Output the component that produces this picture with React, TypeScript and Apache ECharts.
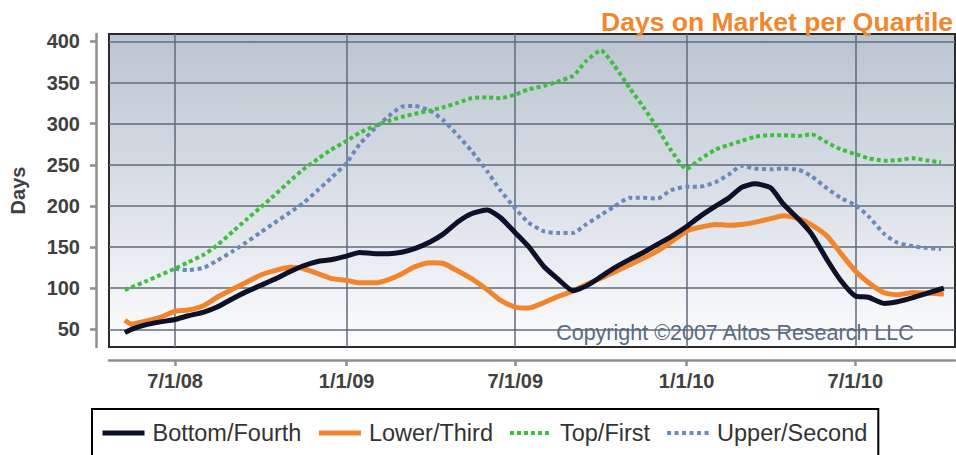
import React, { useEffect, useRef } from "react";
import * as echarts from "echarts";

// Semi-monthly sample dates
const dates: string[] = [
  "2008-05-08", "2008-05-15", "2008-06-01", "2008-06-15",
  "2008-07-01", "2008-07-15", "2008-08-01", "2008-08-15", "2008-09-01", "2008-09-15",
  "2008-10-01", "2008-10-15", "2008-11-01", "2008-11-15", "2008-12-01", "2008-12-15",
  "2009-01-01", "2009-01-15", "2009-02-01", "2009-02-15", "2009-03-01", "2009-03-15",
  "2009-04-01", "2009-04-15", "2009-05-01", "2009-05-15", "2009-06-01", "2009-06-15",
  "2009-07-01", "2009-07-15", "2009-08-01", "2009-08-15", "2009-09-01", "2009-09-15",
  "2009-10-01", "2009-10-15", "2009-11-01", "2009-11-15", "2009-12-01", "2009-12-15",
  "2010-01-01", "2010-01-15", "2010-02-01", "2010-02-15", "2010-03-01", "2010-03-15",
  "2010-04-01", "2010-04-15", "2010-05-01", "2010-05-15", "2010-06-01", "2010-06-15",
  "2010-07-01", "2010-07-15", "2010-08-01", "2010-08-15", "2010-09-01", "2010-09-15",
  "2010-10-01", "2010-10-04",
];

const bottomFourth: (number | null)[] = [
  46, 50, 56, 59,
  62, 66.5, 71, 77, 87.5, 95.5,
  103.5, 110.5, 120, 127, 132.5, 134.5,
  139, 143.3, 142, 142, 143.7, 148,
  156.5, 166, 181, 190.5, 195, 186,
  167.5, 151, 126, 112, 97, 102.5,
  114, 124.5, 135, 143, 153.5, 162.5,
  175, 187, 199.7, 209.5, 222.6, 227,
  222, 202, 184, 166, 134, 110,
  90.5, 89, 81.5, 83.5, 88.5, 93.5,
  99, 100,
];

const lowerThird: (number | null)[] = [
  61, 56.5, 60.5, 64.5,
  72, 73.4, 79, 89, 99, 107,
  116, 121, 125.3, 124, 117.7, 112,
  109.5, 106.5, 106.5, 110.5, 117.3, 126,
  131, 130, 120.5, 111.5, 98, 85.5,
  77, 75.8, 82.5, 89.5, 96.5, 104.5,
  112, 119.5, 128.5, 136, 145.5, 156,
  169.5, 174, 177.5, 176.5, 177.5, 180,
  184.5, 188, 184.5, 177, 163, 143,
  121, 107, 94.5, 92, 94.8, 94,
  93, 92.8,
];

const topFirst: (number | null)[] = [
  98, 101, 109, 116,
  124, 131.5, 141, 152, 169, 183,
  198.5, 212.5, 230, 244, 257, 268,
  279, 289, 297.5, 303.5, 308, 312,
  316, 320, 325.5, 331, 332, 331,
  335.5, 341.5, 346, 351, 358, 376,
  389, 371, 343, 321, 294, 268,
  245, 256.5, 268.5, 274, 279, 284,
  286, 286, 285, 287, 277, 269,
  263, 258, 255, 255.5, 258, 255.5,
  253, null,
];

const upperSecond: (number | null)[] = [
  null, null, null, null,
  123.5, 122, 125, 133.5, 145, 155.5,
  168, 179, 192, 203, 219, 233.5,
  252.5, 275, 295, 309, 320.5, 321.5,
  315.5, 304, 285, 267, 242, 219,
  197, 180, 169, 167, 167, 177.5,
  189, 199, 210, 210, 209, 219,
  223.4, 223.4, 229, 238, 248.9, 245.5,
  244.5, 245.5, 244, 236, 221, 210,
  201, 187.5, 166, 155.5, 151, 149,
  147.6, null,
];

const xTickDates: string[] = ["2008-07-01", "2009-01-01", "2009-07-01", "2010-01-01", "2010-07-01"];
const yTicks: number[] = [50, 100, 150, 200, 250, 300, 350, 400];
const xMinDate = "2008-04-21";
const xMaxDate = "2010-10-16";

const seriesNames = ["Bottom/Fourth", "Lower/Third", "Top/First", "Upper/Second"];

const ts = (s: string) => {
  const [y, m, d] = s.split("-").map(Number);
  return Date.UTC(y, m - 1, d);
};

const FONT = "Liberation Sans, Arial, Helvetica, sans-serif";

const COLORS: Record<string, string> = {
  "Bottom/Fourth": "#0c1128",
  "Lower/Third": "#f0852d",
  "Top/First": "#3dbf3d",
  "Upper/Second": "#6a88b8",
};
const LINE_TYPES: Record<string, any> = {
  "Bottom/Fourth": "solid",
  "Lower/Third": "solid",
  "Top/First": [4, 3],
  "Upper/Second": [4, 3.5],
};
const LINE_WIDTHS: Record<string, number> = {
  "Bottom/Fourth": 5,
  "Lower/Third": 5,
  "Top/First": 4,
  "Upper/Second": 4,
};

export default function App() {
  const ref = useRef<HTMLDivElement>(null);

  useEffect(() => {
    document.body.style.margin = "0";
    if (!ref.current) return;
    const chart = echarts.init(ref.current, null, { renderer: "svg" });

    const pair = (vals: (number | null)[]) =>
      dates.map((d, i) => [ts(d), vals[i]]).filter((p) => p[1] !== null);

    const xTicksTs = xTickDates.map(ts);
    const gridColor = "#5f6b7b";
    const axisGray = "#8e8e8e";

    const mkSeries = (name: string, vals: (number | null)[], z: number, extra: any = {}) => ({
      name,
      type: "line",
      symbol: "none",
      smooth: 0.2,
      z,
      data: pair(vals),
      color: COLORS[name],
      lineStyle: { color: COLORS[name], width: LINE_WIDTHS[name], type: LINE_TYPES[name], cap: "butt" },
      ...extra,
    });

    const option: any = {
      animation: false,
      title: {
        text: "Days on Market per Quartile",
        right: 3,
        top: 8,
        padding: 0,
        textStyle: { color: "#F0862E", fontSize: 26.5, fontWeight: "bold", fontFamily: FONT },
      },
      grid: {
        left: 109,
        top: 34,
        right: 1,
        bottom: 108,
        show: true,
        borderColor: "#2b2b2b",
        borderWidth: 2,
        backgroundColor: new echarts.graphic.LinearGradient(0, 0, 0, 1, [
          { offset: 0, color: "#bac4d0" },
          { offset: 0.55, color: "#dde2e9" },
          { offset: 1, color: "#fdfdfe" },
        ]),
      },
      legend: {
        data: seriesNames.map((n) => ({
          name: n,
          itemStyle: { opacity: 0, color: "transparent", borderWidth: 0 },
          lineStyle: { color: COLORS[n], width: LINE_WIDTHS[n], type: LINE_TYPES[n], cap: "butt" },
        })),
        left: 92,
        top: 409,
        orient: "horizontal",
        padding: [12, 11, 40, 8],
        borderColor: "#000",
        borderWidth: 2,
        itemWidth: 42,
        itemHeight: 14,
        itemGap: 15,
        textStyle: { color: "#333", fontSize: 23.5, fontFamily: FONT, padding: [0, 0, 0, 3] },
      },
      xAxis: {
        type: "value",
        min: ts(xMinDate),
        max: ts(xMaxDate),
        offset: 13,
        axisLine: { show: true, lineStyle: { color: axisGray, width: 2.5 } },
        axisTick: {
          show: true,
          customValues: xTicksTs,
          length: 6,
          lineStyle: { color: axisGray, width: 2.5 },
        },
        axisLabel: {
          customValues: xTicksTs,
          margin: 11,
          color: "#404040",
          fontSize: 20,
          fontWeight: "bold",
          fontFamily: FONT,
          formatter: (v: number) => {
            const d = new Date(v);
            return `${d.getUTCMonth() + 1}/${d.getUTCDate()}/${String(d.getUTCFullYear()).slice(2)}`;
          },
        },
        splitLine: { show: false },
      },
      yAxis: {
        type: "value",
        min: 28.5,
        max: 409,
        minInterval: 50,
        maxInterval: 50,
        splitNumber: 8,
        offset: 13,
        name: "Days",
        nameLocation: "middle",
        nameGap: 68,
        nameTextStyle: { color: "#404040", fontSize: 20, fontWeight: "bold", fontFamily: FONT },
        axisLine: { show: true, lineStyle: { color: axisGray, width: 2.5 } },
        axisTick: {
          show: true,
          customValues: yTicks,
          length: 6,
          lineStyle: { color: axisGray, width: 2.5 },
        },
        axisLabel: {
          customValues: yTicks,
          margin: 16,
          color: "#404040",
          fontSize: 20,
          fontWeight: "bold",
          fontFamily: FONT,
        },
        splitLine: { show: true, lineStyle: { color: gridColor, width: 1.5 } },
      },
      graphic: [
        {
          type: "text",
          right: 41,
          top: 322,
          z: 3,
          style: {
            text: "Copyright ©2007 Altos Research LLC",
            fill: "#5b6a80",
            font: `21.5px ${FONT}`,
          },
        },
      ],
      series: [
        mkSeries("Upper/Second", upperSecond, 2, {
          markLine: {
            silent: true,
            symbol: "none",
            z: 1,
            label: { show: false },
            lineStyle: { color: gridColor, width: 1.5, type: "solid" },
            data: xTicksTs.map((t) => ({ xAxis: t })),
          },
        }),
        mkSeries("Top/First", topFirst, 3),
        mkSeries("Lower/Third", lowerThird, 4),
        mkSeries("Bottom/Fourth", bottomFourth, 5),
      ],
    };

    chart.setOption(option);
    return () => chart.dispose();
  }, []);

  return (
    <div
      ref={ref}
      style={{ width: 956, height: 455, position: "absolute", left: 0, top: 0 }}
    />
  );
}
